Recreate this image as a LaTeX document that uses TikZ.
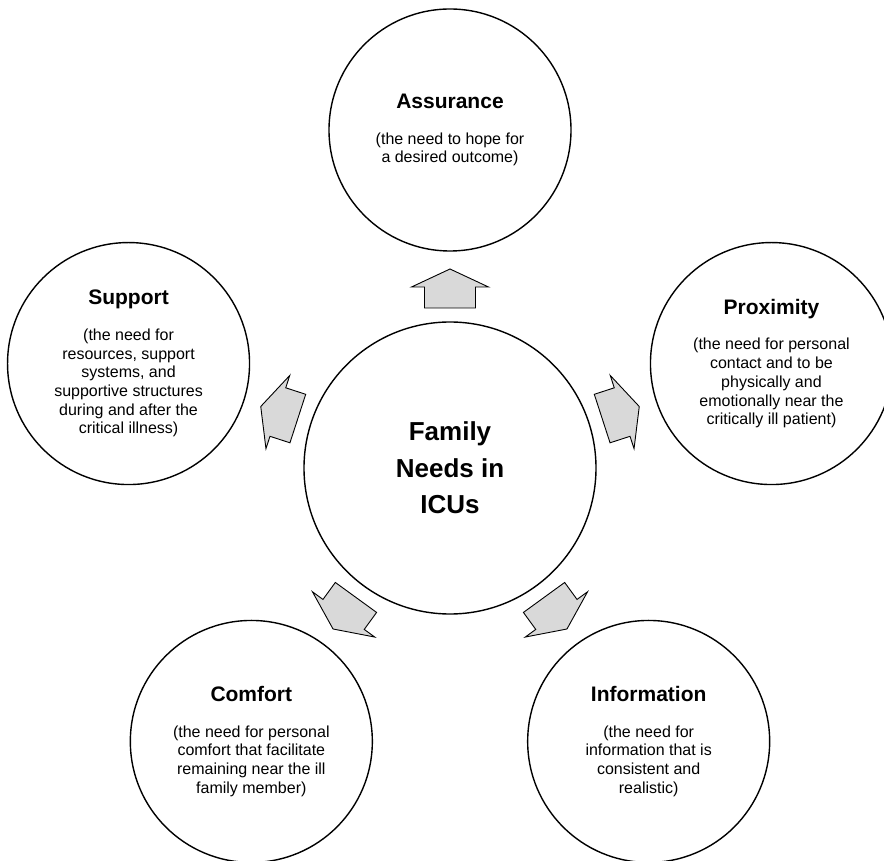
\documentclass[tikz,border=0pt]{standalone}
\usepackage{fontspec}
\setmainfont{Liberation Sans}
\usetikzlibrary{positioning,calc}
\definecolor{arrowgray}{HTML}{D9D9D9}
\tikzstyle{hubcirc}=[circle,draw,line width=1.4pt,minimum size=292,inner sep=0pt,align=center,font=\fontsize{26}{36.7}\selectfont\bfseries]
\tikzstyle{needcirc}=[circle,draw,line width=1.4pt,minimum size=242,inner sep=0pt,align=center,font=\fontsize{16}{18.7}\selectfont]
\tikzstyle{blockarr}=[draw,line width=0.9pt,fill=arrowgray,line join=miter]
\newcommand{\needtitle}[1]{{\fontsize{21}{25}\selectfont\bfseries #1}\\[17pt]}

\begin{document}
\begin{tikzpicture}[x=1pt,y=1pt]
  \useasboundingbox (0,0) rectangle (884,860);
  \clip (0,0) rectangle (884,860);
  \node[hubcirc] (hub) at (450,392) {Family\\Needs in\\ICUs};
  \path (hub)++(90:338) node[needcirc] (assur)
    {\needtitle{Assurance}(the need to hope for\\a desired outcome)};
  \path (hub)++(18:338) node[needcirc] (prox)
    {\needtitle{Proximity}(the need for personal\\contact and to be\\physically and\\emotionally near the\\critically ill patient)};
  \path (hub)++(306:338) node[needcirc] (info)
    {\needtitle{Information}(the need for\\information that is\\consistent and\\realistic)};
  \path (hub)++(234:338) node[needcirc] (comf)
    {\needtitle{Comfort}(the need for personal\\comfort that facilitate\\remaining near the ill\\family member)};
  \path (hub)++(162:338) node[needcirc] (supp)
    {\needtitle{Support}(the need for\\resources, support\\systems, and\\supportive structures\\during and after the\\critical illness)};
%
  \foreach \ang in {90,18,306,234,162} {
    \begin{scope}[shift={(hub.center)},rotate=\ang]
      \draw[blockarr] (160,25.5) -- (181,25.5) -- (181,38.5) -- (199,0)
        -- (181,-38.5) -- (181,-25.5) -- (160,-25.5) -- cycle;
    \end{scope}
  }
\end{tikzpicture}
\end{document}
